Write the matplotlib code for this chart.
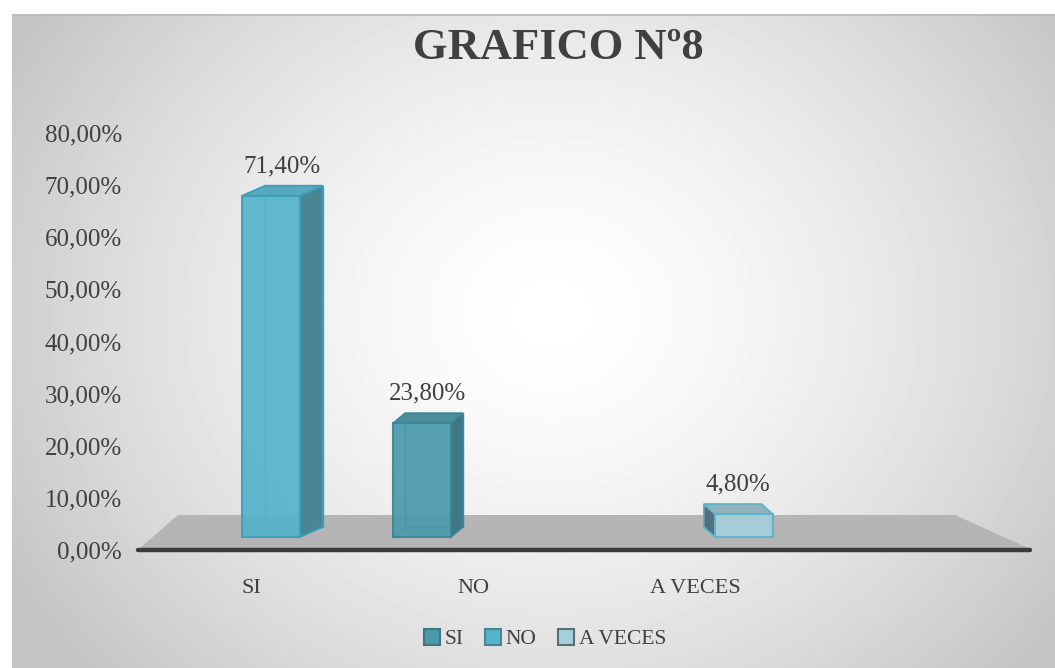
import numpy as np
import matplotlib
matplotlib.use("Agg")
import matplotlib.pyplot as plt
from matplotlib.patches import Polygon, Patch

# ---------------- data ----------------
title = "GRAFICO Nº8"
categories = ["SI", "NO", "A VECES", ""]
series_names = ["SI", "NO", "A VECES"]
bar_categories = ["SI", "NO", "A VECES"]
bar_series = ["NO", "SI", "A VECES"]
bar_values = [71.40, 23.80, 4.80]
y_ticks = [0, 10, 20, 30, 40, 50, 60, 70, 80]
y_tick_labels = ["0,00%", "10,00%", "20,00%", "30,00%", "40,00%",
                 "50,00%", "60,00%", "70,00%", "80,00%"]

# ---------------- styles ----------------
front_col = {"SI": "#4a9aab", "NO": "#55b3ca", "A VECES": "#a6cfdc"}
side_col = {"SI": "#3f7784", "NO": "#4a8593", "A VECES": "#55707a"}
top_col = {"SI": "#4a8e9c", "NO": "#57a9bd", "A VECES": "#90b2bb"}
edge_col = {"SI": "#3a8597", "NO": "#3c9fba", "A VECES": "#5db2cc"}
series_offset = {"SI": -0.23, "NO": 0.09, "A VECES": 0.22}
BAR_W = 0.26
VANISH_X = 1.52
PERSP = 0.072
DEPTH_Y = 2.1
FONT = "Liberation Serif"
TXT = "#404040"

W, H = 1055, 668
fig = plt.figure(figsize=(W / 100, H / 100), dpi=100)
fig.patch.set_facecolor("white")

# background frame with radial gradient
fx0, fy0 = 12, 14
bg = fig.add_axes([fx0 / W, 0, (W - fx0) / W, (H - fy0) / H])
bg.set_axis_off()
gw, gh = 300, 190
xx, yy = np.meshgrid(np.linspace(0, W - fx0, gw), np.linspace(0, H - fy0, gh))
cx, cy = 540, 300
d = np.sqrt(((xx - cx) / 620.0) ** 2 + ((yy - cy) / 540.0) ** 2)
val = 1 - 0.23 * np.clip(d, 0, 1) ** 1.5
bg.imshow(val, cmap="gray", vmin=0, vmax=1, aspect="auto",
          interpolation="bilinear", extent=[0, 1, 0, 1])
bg.set_xlim(0, 1)
bg.set_ylim(0, 1)
bg.plot([0, 1], [1, 1], color="#bcbcbc", lw=2, transform=bg.transAxes)

# axes rectangle (pixels)
ax_l, ax_r, ax_top, ax_bot = 140, 1028, 133, 550
rect = [ax_l / W, (H - ax_bot) / H, (ax_r - ax_l) / W, (ax_bot - ax_top) / H]

# tick axes
ax = fig.add_axes(rect)
ax.patch.set_visible(False)
ax.set_xlim(-0.5, len(categories) - 0.5)
ax.set_ylim(y_ticks[0], y_ticks[-1])
for s in ax.spines.values():
    s.set_visible(False)
ax.set_yticks(y_ticks)
ax.set_yticklabels(y_tick_labels, fontfamily=FONT, fontsize=18, color=TXT)
ax.set_xticks(range(len(categories)))
ax.set_xticklabels(categories, fontfamily=FONT, fontsize=16, color=TXT)
ax.tick_params(axis="y", length=0, pad=13)
ax.tick_params(axis="x", length=0, pad=21)

# bar axes (3D-projected scale)
base_px = 537
px_per_unit = 4.78
ylo = -(ax_bot - base_px) / px_per_unit
yhi = ylo + (ax_bot - ax_top) / px_per_unit
axb = fig.add_axes(rect)
axb.set_axis_off()
axb.set_xlim(-0.5, len(categories) - 0.5)
axb.set_ylim(ylo, yhi)

# floor
floor_front = (548 - base_px) / -px_per_unit
floor_back = (base_px - 515) / px_per_unit
fl_xb0 = (178 - ax_l) / 222 - 0.5
fl_xb1 = (955 - ax_l) / 222 - 0.5
axb.add_patch(Polygon([(-0.5, floor_front), (len(categories) - 0.5, floor_front),
                       (fl_xb1, floor_back), (fl_xb0, floor_back)],
                      closed=True, facecolor="#b5b5b5", edgecolor="none",
                      zorder=1, clip_on=False))
axb.plot([-0.51, len(categories) - 0.49], [ylo, ylo], color="#3a3a3a", lw=3.2,
         solid_capstyle="round", clip_on=False, zorder=2)

# bars
for cat, ser, v in zip(bar_categories, bar_series, bar_values):
    c = categories.index(cat) + series_offset[ser]
    x0, x1 = c - BAR_W / 2, c + BAR_W / 2
    dx = PERSP * (VANISH_X - c)
    dy = DEPTH_Y
    # back edges (seen through)
    axb.plot([x0 + dx, x0 + dx, x1 + dx, x1 + dx, x0 + dx],
             [dy, v + dy, v + dy, dy, dy], color=edge_col[ser], lw=1.0, zorder=3)
    axb.plot([x0, x0 + dx], [0, dy], color=edge_col[ser], lw=1.0, zorder=3)
    axb.plot([x1, x1 + dx], [0, dy], color=edge_col[ser], lw=1.0, zorder=3)
    # side face
    xs = x1 if dx > 0 else x0
    axb.add_patch(Polygon([(xs, 0), (xs + dx, dy), (xs + dx, v + dy), (xs, v)],
                          closed=True, facecolor=side_col[ser],
                          edgecolor=edge_col[ser], lw=1.2, zorder=4))
    # top face
    axb.add_patch(Polygon([(x0, v), (x1, v), (x1 + dx, v + dy), (x0 + dx, v + dy)],
                          closed=True, facecolor=top_col[ser],
                          edgecolor=edge_col[ser], lw=1.2, zorder=4))
    # front face
    axb.bar(c, v, width=BAR_W, bottom=0, color=front_col[ser], alpha=0.92,
            edgecolor=edge_col[ser], linewidth=1.5, zorder=5)
    lab = f"{v:.2f}%".replace(".", ",")
    axb.annotate(lab, (c + dx / 2, v + dy), xytext=(0, 6), textcoords="offset points",
                 ha="center", va="bottom", fontfamily=FONT, fontsize=18,
                 color=TXT, zorder=6)

# title
fig.text(558 / W, 1 - 48 / H, title, ha="center", va="center",
         fontfamily=FONT, fontweight="bold", fontsize=32, color=TXT)

# legend
handles = [Patch(facecolor=front_col[s], edgecolor=side_col[s], lw=1.5)
           for s in series_names]
leg = fig.legend(handles, series_names, loc="center",
                 bbox_to_anchor=(545 / W, 1 - 639 / H), ncol=3, frameon=False,
                 prop={"family": FONT, "size": 15.5}, handlelength=0.75,
                 handleheight=0.8, handletextpad=0.2, columnspacing=1.0)
for t in leg.get_texts():
    t.set_color(TXT)

fig.savefig("out.png", dpi=100)
